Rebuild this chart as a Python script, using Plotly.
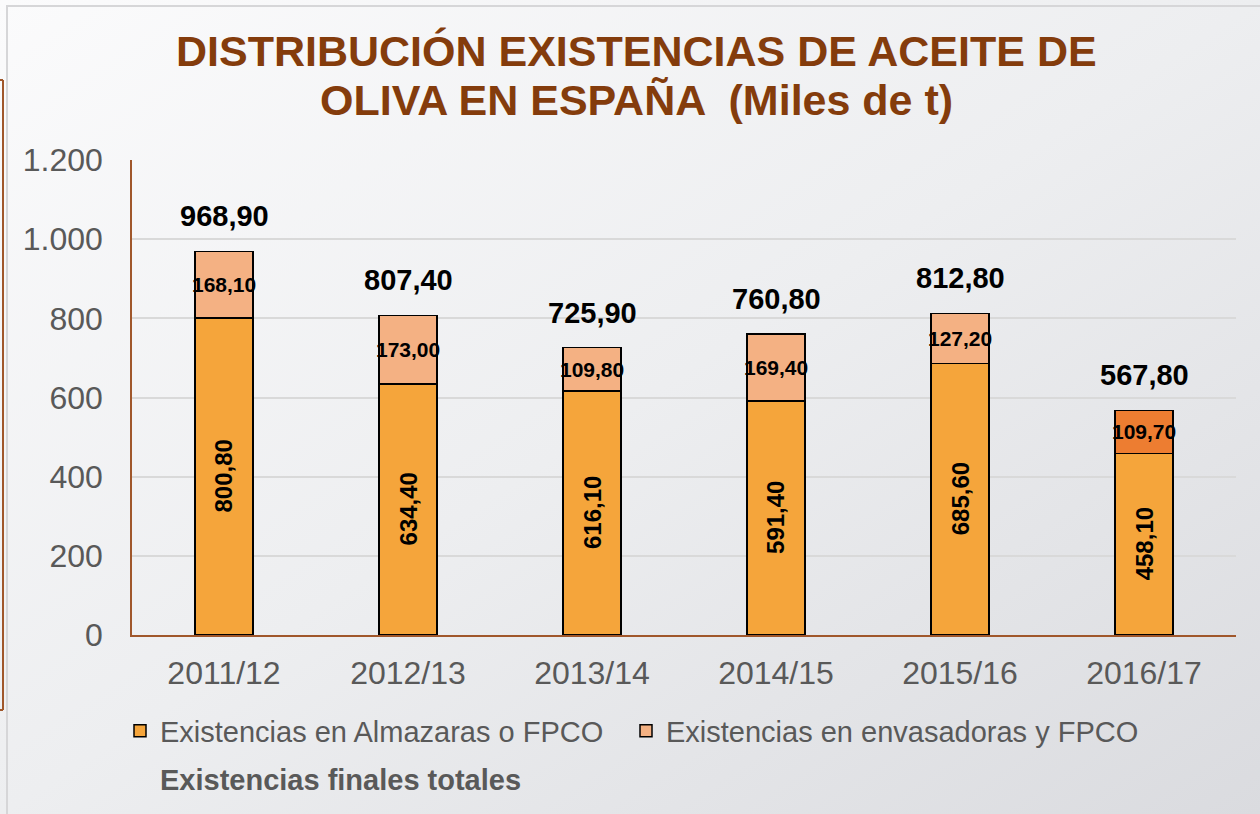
import base64
import plotly.graph_objects as go

# ---------------- data ----------------
campanas = ["2011/12", "2012/13", "2013/14", "2014/15", "2015/16", "2016/17"]
almazaras = [800.80, 634.40, 616.10, 591.40, 685.60, 458.10]
envasadoras = [168.10, 173.00, 109.80, 169.40, 127.20, 109.70]
totales = [968.90, 807.40, 725.90, 760.80, 812.80, 567.80]
y_ticks = [0, 200, 400, 600, 800, 1000, 1200]

serie_alm = "Existencias en Almazaras o FPCO"
serie_env = "Existencias en envasadoras y FPCO"
serie_tot = "Existencias finales totales"
titulo_1 = "DISTRIBUCIÓN EXISTENCIAS DE ACEITE DE"
titulo_2 = "OLIVA EN ESPAÑA  (Miles de t)"

# ---------------- layout geometry ----------------
W, H = 1260, 814
ML, MR, MT, MB = 132, 24, 160, 179
PW = W - ML - MR
PH = H - MT - MB


def px2x(px):
    return (px - ML) / PW


def py2y(py):
    return (H - MB - py) / PH


def cx(px):
    return px / W


def cy(py):
    return 1 - py / H


def fmt(v):
    return f"{v:.2f}".replace(".", ",")


FONT = "Liberation Sans, Arial, sans-serif"
C_ALM = "#F5A53B"
C_ENV = "#F4B183"
C_ENV_LAST = "#ED7D31"
C_BROWN = "#A0572B"
C_GRAY_TXT = "#595959"

env_colors = [C_ENV] * (len(campanas) - 1) + [C_ENV_LAST]

fig = go.Figure()
fig.add_trace(go.Bar(
    x=campanas, y=almazaras, name=serie_alm,
    marker=dict(color=C_ALM, line=dict(color="#000000", width=1.5)),
    width=0.315, legend="legend",
))
fig.add_trace(go.Bar(
    x=campanas, y=envasadoras, name=serie_env,
    marker=dict(color=env_colors, line=dict(color="#000000", width=1.5)),
    width=0.315, legend="legend2",
))
fig.add_trace(go.Scatter(
    x=campanas, y=totales, name="<b>" + serie_tot + "</b>",
    mode="markers", marker=dict(size=1, color="rgba(0,0,0,0)"),
    legend="legend3", hoverinfo="skip",
))

annotations = []
for c, a, e, t in zip(campanas, almazaras, envasadoras, totales):
    annotations.append(dict(
        x=c, y=a / 2, xref="x", yref="y", text="<b>" + fmt(a) + "</b>",
        textangle=-90, showarrow=False, xanchor="center", yanchor="middle",
        font=dict(family=FONT, size=24, color="#000000"),
    ))
    annotations.append(dict(
        x=c, y=a + e / 2, xref="x", yref="y", text="<b>" + fmt(e) + "</b>",
        showarrow=False, xanchor="center", yanchor="middle",
        font=dict(family=FONT, size=21, color="#000000"),
    ))
    annotations.append(dict(
        x=c, y=t, xref="x", yref="y", text="<b>" + fmt(t) + "</b>",
        showarrow=False, xanchor="center", yanchor="middle", yshift=35,
        font=dict(family=FONT, size=29, color="#000000"),
    ))

annotations.append(dict(
    x=px2x(636), y=py2y(51), xref="paper", yref="paper",
    text="<b>" + titulo_1 + "</b>", showarrow=False,
    xanchor="center", yanchor="middle",
    font=dict(family=FONT, size=43, color="#843C0C"),
))
annotations.append(dict(
    x=px2x(636), y=py2y(100), xref="paper", yref="paper",
    text="<b>" + titulo_2 + "</b>", showarrow=False,
    xanchor="center", yanchor="middle",
    font=dict(family=FONT, size=43, color="#843C0C"),
))

# background gradient as an SVG image
svg = (
    '<svg xmlns="http://www.w3.org/2000/svg" width="1260" height="814">'
    '<defs><linearGradient id="g" x1="0" y1="0" x2="1" y2="1">'
    '<stop offset="0" stop-color="#FBFBFC"/>'
    '<stop offset="0.5" stop-color="#EDEEF0"/>'
    '<stop offset="1" stop-color="#DADBDF"/>'
    '</linearGradient></defs>'
    '<rect width="1260" height="814" fill="url(#g)"/></svg>'
)
svg_uri = "data:image/svg+xml;base64," + base64.b64encode(svg.encode()).decode()

shapes = [
    # light frame lines of the slide
    dict(type="line", xref="paper", yref="paper",
         x0=px2x(6), x1=px2x(1260), y0=py2y(6), y1=py2y(6),
         line=dict(color="#D6D6D8", width=2), layer="below"),
    dict(type="line", xref="paper", yref="paper",
         x0=px2x(7), x1=px2x(7), y0=py2y(6), y1=py2y(814),
         line=dict(color="#D6D6D8", width=2), layer="below"),
    # brown edge of neighbouring element
    dict(type="line", xref="paper", yref="paper",
         x0=px2x(3), x1=px2x(3), y0=py2y(80), y1=py2y(710),
         line=dict(color="#A0572B", width=2), layer="below"),
    dict(type="line", xref="paper", yref="paper",
         x0=px2x(0), x1=px2x(3), y0=py2y(80), y1=py2y(80),
         line=dict(color="#A0572B", width=2), layer="below"),
    dict(type="line", xref="paper", yref="paper",
         x0=px2x(0), x1=px2x(3), y0=py2y(710), y1=py2y(710),
         line=dict(color="#A0572B", width=2), layer="below"),
]

legend_common = dict(
    orientation="h", xanchor="left", yanchor="middle",
    xref="container", yref="container",
    bgcolor="rgba(0,0,0,0)", borderwidth=0,
    font=dict(family=FONT, size=29, color=C_GRAY_TXT),
    itemclick=False, itemdoubleclick=False,
)

fig.update_layout(
    width=W, height=H,
    margin=dict(l=ML, r=MR, t=MT, b=MB, pad=0),
    barmode="stack",
    separators=",.",
    paper_bgcolor="#EDEEF0",
    plot_bgcolor="rgba(0,0,0,0)",
    font=dict(family=FONT, color=C_GRAY_TXT),
    showlegend=True,
    images=[dict(source=svg_uri, xref="paper", yref="paper",
                 x=px2x(0), y=py2y(0), sizex=W / PW, sizey=H / PH,
                 xanchor="left", yanchor="top", sizing="stretch",
                 layer="below")],
    shapes=shapes,
    annotations=annotations,
    legend=dict(legend_common, x=cx(120), y=cy(731)),
    legend2=dict(legend_common, x=cx(626), y=cy(731)),
    legend3=dict(legend_common, x=cx(120), y=cy(779)),
    xaxis=dict(
        type="category", categoryorder="array", categoryarray=campanas,
        showline=True, linecolor=C_BROWN, linewidth=1.5,
        showgrid=False, ticks="", ticklabelstandoff=9,
        tickfont=dict(family=FONT, size=32, color=C_GRAY_TXT),
        range=[-0.5, len(campanas) - 0.5], fixedrange=True,
    ),
    yaxis=dict(
        range=[0, 1200], tickvals=y_ticks, tickformat=",d",
        showline=True, linecolor=C_BROWN, linewidth=1.5,
        showgrid=True, gridcolor="#D9D9D9", gridwidth=1.5,
        zeroline=False, ticks="", ticklabelstandoff=21,
        tickfont=dict(family=FONT, size=32, color=C_GRAY_TXT),
        fixedrange=True,
    ),
    bargap=0.3,
)

fig.write_html(
    "out.html",
    config={"displayModeBar": False},
    post_script="document.body.style.margin='0';document.body.style.overflow='hidden';",
)
